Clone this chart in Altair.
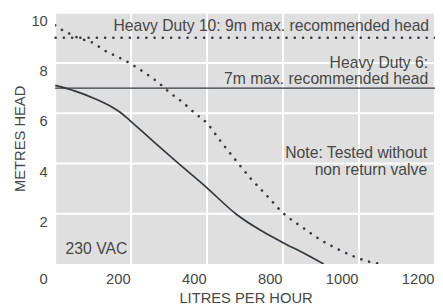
import json
import altair as alt
import pandas as pd

# Heavy Duty 6 pump curve (solid)
hd6_flow = [0, 51, 103, 146, 171, 197, 257, 317, 399, 477, 542, 600, 660, 707]
hd6_head = [7.11, 6.89, 6.59, 6.28, 6.04, 5.71, 4.9, 4.1, 3.04, 1.98, 1.33, 0.85, 0.39, 0.0]

# Heavy Duty 10 pump curve (dotted)
hd10_flow = [0, 20, 40, 60, 100, 130, 165, 200, 235, 270, 302, 336, 368, 400,
             435, 475, 515, 560, 600, 650, 700, 750, 790, 830, 865]
hd10_head = [9.5, 9.3, 9.15, 9.0, 8.8, 8.5, 8.24, 7.96, 7.62, 7.24, 6.82, 6.43,
             6.0, 5.6, 4.9, 4.14, 3.4, 2.68, 2.03, 1.47, 0.95, 0.55, 0.28, 0.08, 0.0]

# Max recommended heads
hd6_max = 7
hd10_max = 9

# Axes
x_tick_values = [0, 200, 400, 600, 800, 1000]
x_tick_labels = ["0", "200", "400", "800", "1000", "1200"]
y_tick_values = [2, 4, 6, 8, 10]

LINE = "#34393e"
TEXT = "#474747"
FONT = "Liberation Sans"
GRID = "#ffffff"
PANEL = "#dfdfdf"

df6 = pd.DataFrame({"flow": hd6_flow, "head": hd6_head})
df10 = pd.DataFrame({"flow": hd10_flow, "head": hd10_head})

label_expr = json.dumps(x_tick_labels).replace('"', "'") + "[round(datum.value/200)]"

x_axis = alt.Axis(
    values=x_tick_values, labelExpr=label_expr,
    labelAlign="right",
    labelOffset={"condition": {"test": "datum.value == 0", "value": -8}, "value": -1},
    labelPadding=8, labelOverlap=False, labelFlush=False, labelBound=False,
    grid=False, domain=False, ticks=False,
    title="LITRES PER HOUR", titleX=194, titleY=39, titleAlign="center",
    titleBaseline="alphabetic",
)
y_axis = alt.Axis(
    values=y_tick_values, labelOffset=8, labelPadding=8,
    grid=False, domain=False, ticks=False,
    title="METRES HEAD", titleX=-31, titleY=128, titleAngle=-90,
    titleAlign="center", titleBaseline="alphabetic",
)

x_scale = alt.Scale(domain=[0, 1000], nice=False, zero=False)
y_scale = alt.Scale(domain=[0, 10], nice=False)
x_enc = alt.X("flow:Q", scale=x_scale, axis=x_axis)
y_enc = alt.Y("head:Q", scale=y_scale, axis=y_axis)

# grey panel behind everything
panel = alt.Chart(alt.Data(values=[{}])).mark_rect(color=PANEL).encode(
    x=alt.value(0), x2=alt.value(387), y=alt.value(0), y2=alt.value(256)
)

# white gridlines, drawn from the tick value lists
vgrid = alt.Chart(pd.DataFrame({"flow": x_tick_values})).mark_rule(
    color=GRID, strokeWidth=2
).encode(x=x_enc)
hgrid = alt.Chart(pd.DataFrame({"head": y_tick_values})).mark_rule(
    color=GRID, strokeWidth=2
).encode(y=y_enc)

curve6 = alt.Chart(df6).mark_line(
    color=LINE, strokeWidth=1.7, interpolate="monotone", clip=True
).encode(x=x_enc, y=y_enc)

curve10 = alt.Chart(df10).mark_line(
    color=LINE, strokeWidth=2.6, interpolate="monotone", strokeDash=[0.1, 8.2],
    strokeCap="round", clip=True
).encode(x=x_enc, y=y_enc)

rule6 = alt.Chart(pd.DataFrame({"head": [hd6_max]})).mark_rule(
    color=LINE, strokeWidth=1.3
).encode(y=y_enc)

rule10 = alt.Chart(pd.DataFrame({"head": [hd10_max]})).mark_rule(
    color=LINE, strokeWidth=2.6, strokeDash=[0.1, 8.3], strokeCap="round"
).encode(y=y_enc)


def note(text, x, y, align):
    return alt.Chart(alt.Data(values=[{}])).mark_text(
        text=text, align=align, baseline="alphabetic", font=FONT,
        fontSize=16, color=TEXT
    ).encode(x=alt.value(x), y=alt.value(y))


texts = [
    note("Heavy Duty 10: 9m max. recommended head", 381, 18.3, "right"),
    note("Heavy Duty 6:", 380, 56.7, "right"),
    note("7m max. recommended head", 380, 72.7, "right"),
    note("Note: Tested without", 379, 148.3, "right"),
    note("non return valve", 379, 165, "right"),
    note("230 VAC", 10.7, 245.7, "left"),
]

chart = alt.layer(panel, vgrid, hgrid, curve6, curve10, rule6, rule10, *texts).properties(
    width=387, height=256,
    autosize=alt.AutoSizeParams(type="none"),
    padding={"left": 48, "top": 2, "right": 0, "bottom": 41},
).configure_view(
    strokeWidth=0
).configure_axis(
    labelFont=FONT, labelFontSize=15, labelColor=TEXT,
    titleFont=FONT, titleFontSize=15, titleColor=TEXT, titleFontWeight="normal",
)

chart.save("out.html", embed_options={"renderer": "svg", "actions": False})
